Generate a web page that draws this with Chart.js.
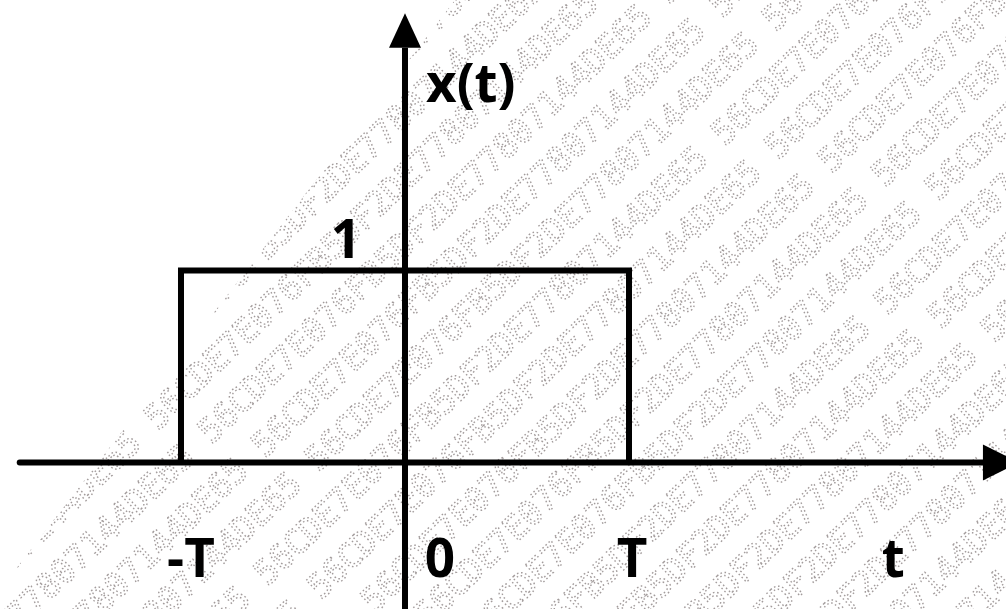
<!DOCTYPE html>
<html>
<head>
<meta charset="utf-8">
<script src="https://cdn.jsdelivr.net/npm/chart.js@4"></script>
<style>
  html, body { margin: 0; padding: 0; background: #fff; }
  #wrap { width: 1006px; height: 609px; }
</style>
</head>
<body>
<div id="wrap"><canvas id="pulse" width="1006" height="609"></canvas></div>
<script>
// rectangular pulse x(t): 1 for -T < t < T, 0 elsewhere (T = 1)
const pulseT = [-1, -1, 1, 1];
const pulseX = [0, 1, 1, 0];

// axes: horizontal t axis and vertical x(t) axis, with arrow tips
const tAxisT = [-1.72, 2.58];
const tArrowTip = 2.74;
const xAxisX = [-0.8, 2.16];
const xArrowTip = 2.34;

// tick labels on the t axis
const tickValues = [-1, 0, 1];
const tickLabels = ['-T', '0', 'T'];
const levelLabel = '1';
const tLabel = 't';
const xLabel = 'x(t)';

// background stamp text
const stampText = '56CDE7E076FB5DF2DE77807144DE65 ';

const FONT = "bold 53px 'Open Sans'";

const toPoints = (xs, ys) => xs.map((x, i) => ({ x: x, y: ys[i] }));

const stampPlugin = {
    id: 'stamp',
    beforeDatasetsDraw(chart) {
        const ctx = chart.ctx;
        const w = chart.width, h = chart.height;
        ctx.save();
        ctx.beginPath();
        ctx.moveTo(455, 0);
        ctx.lineTo(w, 0);
        ctx.lineTo(w, h);
        ctx.lineTo(-15, h);
        ctx.closePath();
        ctx.clip();
        ctx.translate(w / 2, h / 2);
        ctx.rotate(-Math.PI / 4.1);
        ctx.font = "34px 'DejaVu Sans Mono'";
        ctx.strokeStyle = 'rgba(70,55,55,0.5)';
        ctx.lineWidth = 1.4;
        ctx.setLineDash([1.6, 2.6]);
        const line = stampText.repeat(8);
        let row = 0;
        for (let y = -900; y < 900; y += 47) {
            ctx.strokeText(line, -1000 + (row % 5) * 29, y);
            row++;
        }
        ctx.restore();
    }
};

const labelPlugin = {
    id: 'labels',
    afterDatasetsDraw(chart) {
        const ctx = chart.ctx;
        const xs = chart.scales.x, ys = chart.scales.y;
        const x0 = xs.getPixelForValue(0);
        const y0 = ys.getPixelForValue(0);
        ctx.save();
        ctx.fillStyle = '#000';

        // arrowheads
        const up = ys.getPixelForValue(xArrowTip), upBase = ys.getPixelForValue(xAxisX[1]);
        ctx.beginPath();
        ctx.moveTo(x0, up);
        ctx.lineTo(x0 + 16, upBase);
        ctx.lineTo(x0 - 16, upBase);
        ctx.closePath();
        ctx.fill();
        const rt = xs.getPixelForValue(tArrowTip), rtBase = xs.getPixelForValue(tAxisT[1]);
        ctx.beginPath();
        ctx.moveTo(rt, y0);
        ctx.lineTo(rtBase, y0 - 18);
        ctx.lineTo(rtBase, y0 + 18);
        ctx.closePath();
        ctx.fill();

        ctx.font = FONT;
        ctx.textBaseline = 'alphabetic';

        // tick labels under the t axis
        const shift = { '-T': 10, '0': 35, 'T': 3 };
        tickValues.forEach((v, i) => {
            const txt = tickLabels[i];
            ctx.textAlign = 'center';
            ctx.fillText(txt, xs.getPixelForValue(v) + shift[txt], y0 + 114);
        });
        ctx.textAlign = 'center';
        ctx.fillText(tLabel, xs.getPixelForValue(2.18), y0 + 114);

        // level label for the pulse height
        ctx.textAlign = 'right';
        ctx.fillText(levelLabel, x0 - 44, ys.getPixelForValue(1) - 13);

        // vertical axis name
        ctx.textAlign = 'left';
        ctx.fillText(xLabel, x0 + 21, ys.getPixelForValue(1.88));
        ctx.restore();
    }
};

new Chart(document.getElementById('pulse'), {
    type: 'scatter',
    data: {
        datasets: [
            {
                label: 't axis',
                data: toPoints(tAxisT, [0, 0]),
                showLine: true,
                borderColor: '#000',
                borderWidth: 6,
                borderCapStyle: 'round',
                pointRadius: 0
            },
            {
                label: 'x axis',
                data: toPoints([0, 0], xAxisX),
                showLine: true,
                borderColor: '#000',
                borderWidth: 6,
                pointRadius: 0
            },
            {
                label: 'x(t)',
                data: toPoints(pulseT, pulseX),
                showLine: true,
                borderColor: '#000',
                borderWidth: 6,
                borderJoinStyle: 'miter',
                pointRadius: 0
            }
        ]
    },
    options: {
        responsive: false,
        animation: false,
        layout: { padding: 0 },
        plugins: {
            legend: { display: false },
            tooltip: { enabled: false }
        },
        scales: {
            x: { type: 'linear', min: -1.808, max: 2.683, display: false },
            y: { type: 'linear', min: -0.763, max: 2.409, display: false }
        }
    },
    plugins: [stampPlugin, labelPlugin]
});
</script>
</body>
</html>
